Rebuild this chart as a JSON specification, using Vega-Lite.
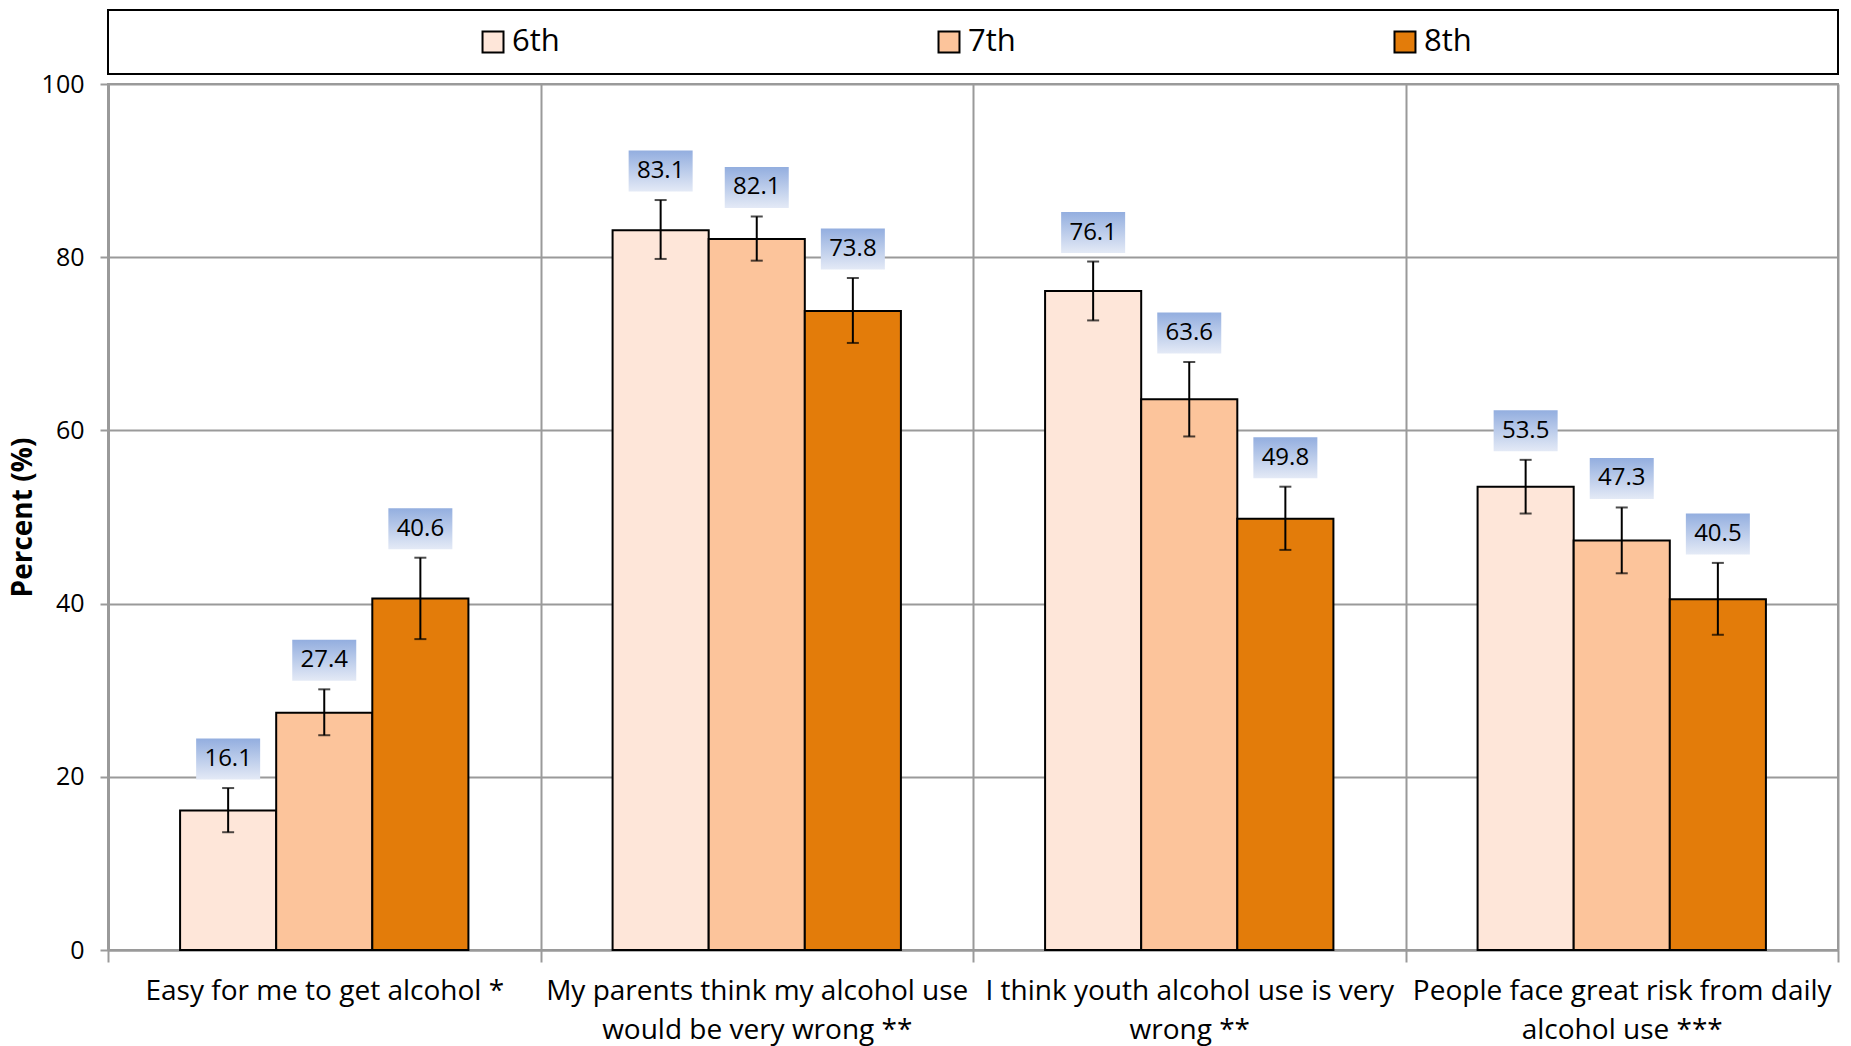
{
  "$schema": "https://vega.github.io/schema/vega-lite/v6.json",
  "padding": {"left": 8, "top": 9, "right": 5, "bottom": 5},
  "background": "white",
  "config": {
    "font": "Open Sans",
    "concat": {"spacing": 10}
  },
  "bounds": "flush",
  "datasets": {
    "bars": [
      {"item": "Easy for me to get alcohol *", "grade": "6th", "pct": 16.1, "lo": 13.6, "hi": 18.7},
      {"item": "Easy for me to get alcohol *", "grade": "7th", "pct": 27.4, "lo": 24.8, "hi": 30.1},
      {"item": "Easy for me to get alcohol *", "grade": "8th", "pct": 40.6, "lo": 35.9, "hi": 45.3},
      {"item": "My parents think my alcohol use|would be very wrong **", "grade": "6th", "pct": 83.1, "lo": 79.8, "hi": 86.6},
      {"item": "My parents think my alcohol use|would be very wrong **", "grade": "7th", "pct": 82.1, "lo": 79.6, "hi": 84.7},
      {"item": "My parents think my alcohol use|would be very wrong **", "grade": "8th", "pct": 73.8, "lo": 70.1, "hi": 77.6},
      {"item": "I think youth alcohol use is very|wrong **", "grade": "6th", "pct": 76.1, "lo": 72.7, "hi": 79.5},
      {"item": "I think youth alcohol use is very|wrong **", "grade": "7th", "pct": 63.6, "lo": 59.3, "hi": 67.9},
      {"item": "I think youth alcohol use is very|wrong **", "grade": "8th", "pct": 49.8, "lo": 46.2, "hi": 53.5},
      {"item": "People face great risk from daily|alcohol use ***", "grade": "6th", "pct": 53.5, "lo": 50.4, "hi": 56.6},
      {"item": "People face great risk from daily|alcohol use ***", "grade": "7th", "pct": 47.3, "lo": 43.5, "hi": 51.1},
      {"item": "People face great risk from daily|alcohol use ***", "grade": "8th", "pct": 40.5, "lo": 36.4, "hi": 44.7}
    ],
    "grades": [{"grade": "6th"}, {"grade": "7th"}, {"grade": "8th"}]
  },
  "vconcat": [
    {
      "width": 1730,
      "height": 64,
      "view": {"stroke": "black", "strokeWidth": 2},
      "data": {"name": "grades"},
      "encoding": {
        "x": {"field": "grade", "type": "nominal", "scale": {"type": "point", "padding": 0.897}, "axis": null}
      },
      "layer": [
        {
          "mark": {"type": "point", "shape": "square", "filled": true, "size": 440, "stroke": "black", "strokeWidth": 2, "opacity": 1, "xOffset": -24},
          "encoding": {
            "fill": {"field": "grade", "type": "nominal", "scale": {"domain": ["6th", "7th", "8th"], "range": ["#FEE6D9", "#FCC49B", "#E37C0A"]}, "legend": null}
          }
        },
        {
          "mark": {"type": "text", "align": "left", "baseline": "middle", "dx": -5, "fontSize": 31, "color": "black"},
          "encoding": {"text": {"field": "grade"}}
        }
      ]
    },
    {
      "width": 1730,
      "height": 866,
      "view": {"stroke": "#9a9a9a", "strokeWidth": 2},
      "data": {"name": "bars"},
      "encoding": {
        "x": {
          "field": "item", "type": "nominal", "sort": null,
          "scale": {"paddingInner": 0, "paddingOuter": 0},
          "axis": {
            "title": null, "labelAngle": 0, "labelFontSize": 28, "labelColor": "black", "labelLimit": 0,
            "labelExpr": "isValid(datum.value) ? split(datum.value, '|') : ''", "labelLineHeight": 39, "labelPadding": 15,
            "tickBand": "extent", "tickSize": 12, "tickColor": "#9a9a9a", "tickWidth": 2,
            "grid": true, "gridColor": "#9a9a9a", "gridWidth": 2,
            "domainColor": "#9a9a9a", "domainWidth": 2
          }
        },
        "xOffset": {"field": "grade", "type": "nominal", "scale": {"paddingInner": 0, "paddingOuter": 0.75}}
      },
      "layer": [
        {
          "mark": {"type": "bar", "stroke": "black", "strokeWidth": 2},
          "encoding": {
            "y": {
              "field": "pct", "type": "quantitative",
              "scale": {"domain": [0, 100]},
              "axis": {
                "title": "Percent (%)", "titleFontSize": 28, "titleFontWeight": "bold", "titleColor": "black", "titlePadding": 4,
                "values": [0, 20, 40, 60, 80, 100], "labelFontSize": 25, "labelColor": "black", "labelPadding": 16,
                "tickSize": 8, "tickColor": "#9a9a9a", "tickWidth": 2,
                "grid": true, "gridColor": "#9a9a9a", "gridWidth": 2,
                "domainColor": "#9a9a9a", "domainWidth": 3
              }
            },
            "fill": {"field": "grade", "type": "nominal", "scale": {"domain": ["6th", "7th", "8th"], "range": ["#FEE6D9", "#FCC49B", "#E37C0A"]}, "legend": null}
          }
        },
        {
          "mark": {"type": "rule", "color": "black", "strokeWidth": 2},
          "encoding": {
            "y": {"field": "lo", "type": "quantitative"},
            "y2": {"field": "hi"}
          }
        },
        {
          "mark": {"type": "tick", "color": "black", "thickness": 2, "size": 12, "orient": "horizontal"},
          "encoding": {"y": {"field": "lo", "type": "quantitative"}}
        },
        {
          "mark": {"type": "tick", "color": "black", "thickness": 2, "size": 12, "orient": "horizontal"},
          "encoding": {"y": {"field": "hi", "type": "quantitative"}}
        },
        {
          "mark": {
            "type": "point", "shape": "M-1,-0.64H1V0.64H-1Z", "size": 4096, "filled": true, "opacity": 1, "strokeWidth": 0, "yOffset": -29,
            "fill": {"gradient": "linear", "x1": 0, "y1": 0, "x2": 0, "y2": 1, "stops": [{"offset": 0, "color": "#93AEDF"}, {"offset": 1, "color": "#E4EAF6"}]}
          },
          "encoding": {"y": {"field": "hi", "type": "quantitative"}}
        },
        {
          "mark": {"type": "text", "fontSize": 24, "color": "black", "baseline": "middle", "dy": -29},
          "encoding": {
            "y": {"field": "hi", "type": "quantitative"},
            "text": {"field": "pct", "type": "quantitative", "format": ".1f"}
          }
        }
      ]
    }
  ]
}
